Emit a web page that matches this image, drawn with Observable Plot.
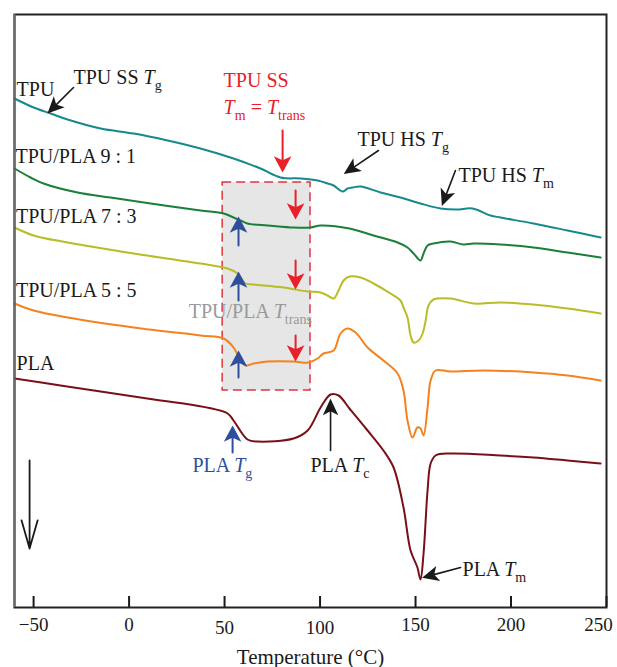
<!DOCTYPE html>
<html>
<head>
<meta charset="utf-8">
<script src="https://cdn.jsdelivr.net/npm/d3@7"></script>
<script src="https://cdn.jsdelivr.net/npm/@observablehq/plot@0.6"></script>
<style>
  html, body { margin: 0; padding: 0; background: #fff; }
  #chart svg { display: block; }
</style>
</head>
<body>
<div id="chart"></div>
<script>
// ---- Data: temperature (°C) vs. heat flow (arbitrary units, curves offset vertically) ----
const TPU = [[-60,507],[-50,498],[-41.1,492],[-32.2,486],[-14.9,477],[2.4,472],[20.2,465],[37.4,457],[54.7,447],[68.8,437],[79.3,428],[89.8,427],[98.7,425],[104,422],[107.1,420],[111.8,414],[114.4,417],[117.0,418],[121.2,419],[131.7,413],[142.1,408],[152.6,402],[163.1,397],[171.5,396],[179.8,397],[189.3,390],[194.5,388],[211.8,382],[229.6,375],[246.9,368]];
const PLA91 = [[-60,437],[-51.6,428],[-44.8,422],[-27.0,413],[-9.7,408],[11.3,402],[37.4,395],[49.5,392],[54.7,388],[58.4,385],[62,382],[65.2,381],[72.5,380],[86.1,378],[95.0,378],[100.3,380],[115.4,377],[128.0,370],[140.6,363],[145.8,358],[149.0,352],[152.6,345],[154.2,352],[156.3,360],[159.4,362],[168.3,364],[175.1,361],[180.4,362],[194.5,361],[211.8,358],[229.6,353],[246.9,348]];
const PLA73 = [[-60,378],[-50,370],[-32.2,363],[2.4,352],[37.4,342],[51.6,337],[56.8,332],[61.0,322],[65.2,321],[80.9,318],[93.5,314],[100.3,313],[103.9,310],[107.1,307],[109.7,315],[112.3,325],[115.4,329],[121.2,328],[128.0,322],[136.9,312],[142.1,305],[143.7,298],[145.8,288],[147.4,270],[149.0,263],[151.6,265],[153.7,272],[155.3,285],[156.8,300],[159.4,306],[168.3,307],[180.4,302],[194.5,303],[211.8,301],[229.6,297],[246.9,292]];
const PLA55 = [[-60,302],[-50,295],[-32.2,288],[2.4,278],[37.4,270],[49.5,267],[54.7,258],[58.4,245],[61.0,240],[65.2,242],[72.5,244],[86.1,244],[94.0,243],[98.7,247],[101.8,252],[107.1,255],[110.7,272],[114.4,277],[118.6,273],[124.9,258],[133.2,245],[140.6,232],[143.7,215],[145.8,185],[148.4,168],[151.0,178],[152.6,177],[154.2,170],[156.3,198],[157.9,225],[160.5,235],[168.3,234],[185.6,235],[211.8,233],[229.6,230],[246.9,225]];
const PLA = [[-60,227],[-35.9,220],[-14.9,214],[16.5,205],[28.5,202],[51.6,192],[54.7,185],[62.0,166],[67.3,164],[86.1,167],[93.5,175],[100.3,198],[105.5,211],[109.7,210],[115.4,197],[124.9,175],[133.2,155],[138.5,138],[143.7,98],[147.4,55],[151.0,38],[152.6,26],[154.2,52],[156.3,115],[157.9,142],[160.5,150],[168.3,152],[194.5,150],[211.8,148],[229.6,145],[246.9,142]];

const seriesNames = ["TPU", "TPU/PLA 9:1", "TPU/PLA 7:3", "TPU/PLA 5:5", "PLA"];
const seriesData = [TPU, PLA91, PLA73, PLA55, PLA];
const seriesColors = ["#16898d", "#1b7f3a", "#b9bc27", "#f4821f", "#7a1017"];

const xTicks = [-50, 0, 50, 100, 150, 200, 250];

// annotation texts (x in °C, y = baseline in curve units)
const labelText = ["TPU", "TPU SS *T*_{g}", "TPU SS", "*T*_{m} = *T*_{trans}", "TPU HS *T*_{g}", "TPU HS *T*_{m}",
  "TPU/PLA 9 : 1", "TPU/PLA 7 : 3", "TPU/PLA 5 : 5", "PLA", "TPU/PLA *T*_{trans}", "PLA *T*_{g}", "PLA *T*_{c}", "PLA *T*_{m}"];
const labelX = [-58.9, -29.1, 49.5, 49.5, 119.6, 172.5, -59.5, -59.2, -59.2, -58.9, 31.2, 33.2, 95.0, 174.6];
const labelY = [510, 522, 519, 492, 460, 424, 443, 383, 309, 236, 288, 134, 134, 30];
const labelKind = ["k", "k", "r", "r", "k", "k", "k", "k", "k", "k", "g", "b", "k", "k"];

// annotation arrows: tail (°C, units), pixel length, angle (deg clockwise from up)
const arrowX = [-29.1, 80.4, 130.6, 170.9, 57.3, 57.3, 57.3, 54.2, 87.2, 87.2, 87.2, 105.5, 173.6];
const arrowY = [518, 475, 455, 435, 360, 305, 228, 153, 415, 345, 270, 155, 38];
const arrowLen = [35, 40, 40, 36, 27, 27, 25, 25, 27, 27, 24, 50, 38];
const arrowAngle = [225, 180, 236, 201, 0, 0, 0, 0, 180, 180, 180, 0, 255];
const arrowKind = ["k", "r", "k", "k", "b", "b", "b", "b", "r", "r", "r", "k", "k"];

// transition region box
const boxX = [49, 95];
const boxY = [215, 423];

// direction arrow (exo/endo)
const dirArrow = {x: -52.1, y1: 145, y2: 57};

// ---- build ----
const kindColor = {k: "#1a1a1a", r: "#e8202a", b: "#2f4f9e", g: "#9a9a9a"};
const curves = seriesNames.flatMap((name, i) => seriesData[i].map(([t, v]) => ({name, t, v})));
const labels = labelText.map((text, i) => ({text, x: labelX[i], y: labelY[i], color: kindColor[labelKind[i]]}));
const arrows = arrowX.map((x, i) => ({x, y: arrowY[i], len: arrowLen[i], angle: arrowAngle[i], color: kindColor[arrowKind[i]], kind: arrowKind[i]}));

function arrowShape(headLen, headHalf) {
  return {
    draw(context, l) {
      context.moveTo(0, 0);
      context.lineTo(0, -l + headLen * 0.8);
      context.moveTo(0, -l);
      context.lineTo(headHalf, -l + headLen);
      context.lineTo(0, -l + headLen * 0.75);
      context.lineTo(-headHalf, -l + headLen);
      context.closePath();
    }
  };
}

const font = "'Liberation Serif', 'Times New Roman', serif";
const tickFont = {tickSize: 0, tickPadding: 10, fontSize: 19, label: null};

const chart = Plot.plot({
  width: 617,
  height: 667,
  marginLeft: 14,
  marginRight: 11,
  marginTop: 14,
  marginBottom: 60,
  style: {fontFamily: font, fontSize: "19px", color: "#1a1a1a", background: "#fff"},
  x: {domain: [-60, 250]},
  y: {domain: [-2, 591], axis: null},
  length: {type: "identity"},
  color: {domain: seriesNames, range: seriesColors},
  marks: [
    Plot.rect([0], {x1: () => boxX[0], x2: () => boxX[1], y1: () => boxY[0], y2: () => boxY[1],
      fill: "#e6e6e6", stroke: "#e2363b", strokeWidth: 1.5, strokeDasharray: "9,5"}),
    Plot.line(curves, {x: "t", y: "v", z: "name", stroke: "name", strokeWidth: 2, curve: "catmull-rom"}),
    Plot.vector(arrows.filter(d => d.kind === "k"), {x: "x", y: "y", length: "len", rotate: "angle", anchor: "start",
      shape: arrowShape(13, 6), stroke: "color", fill: "color", strokeWidth: 1.6, strokeLinejoin: "miter"}),
    Plot.vector(arrows.filter(d => d.kind !== "k"), {x: "x", y: "y", length: "len", rotate: "angle", anchor: "start",
      shape: arrowShape(12, 6.5), stroke: "color", fill: "color", strokeWidth: 2, strokeLinejoin: "miter"}),
    Plot.arrow([dirArrow], {x1: "x", x2: "x", y1: "y1", y2: "y2", stroke: "#1a1a1a", strokeWidth: 1.8, headLength: 30, headAngle: 32}),
    Plot.text(labels, {x: "x", y: "y", text: "text", fill: "color", textAnchor: "start", lineAnchor: "bottom", fontSize: 20, fontFamily: font}),
    Plot.frame({stroke: "#222", strokeWidth: 2}),
    Plot.ruleX([-60], {stroke: "#6a6a6a", strokeWidth: 2}),
    Plot.tickX(xTicks, {x: d => d, insetTop: 582, stroke: "#1a1a1a", strokeWidth: 2}),
    Plot.axisX(xTicks.filter(t => t !== 50 && t !== 100 && t !== 250), tickFont),
    Plot.axisX(xTicks.filter(t => t === 50 || t === 100), {...tickFont, dy: 3}),
    Plot.axisX(xTicks.filter(t => t === 250), {...tickFont, dx: -8}),
    Plot.text(["Temperature (°C)"], {frameAnchor: "bottom", dy: 56, fontSize: 21, fontFamily: font, fill: "#1a1a1a"})
  ]
});

// rich text: *italic* and _{subscript}
chart.querySelectorAll("text").forEach(t => {
  const s = t.textContent;
  if (!/\*|_\{/.test(s)) return;
  const re = /\*([^*]+)\*|_\{([^}]*)\}|([^*_]+)/g;
  t.textContent = "";
  let m, shifted = false;
  while ((m = re.exec(s))) {
    const ts = document.createElementNS("http://www.w3.org/2000/svg", "tspan");
    if (m[2] != null) {
      ts.textContent = m[2];
      ts.setAttribute("font-size", "14");
      ts.setAttribute("font-style", "normal");
      ts.setAttribute("dy", "6");
      shifted = true;
    } else {
      ts.textContent = m[1] != null ? m[1] : m[3];
      if (m[1] != null) ts.setAttribute("font-style", "italic");
      if (shifted) { ts.setAttribute("dy", "-6"); shifted = false; }
    }
    t.appendChild(ts);
  }
});

document.getElementById("chart").appendChild(chart);
</script>
</body>
</html>
